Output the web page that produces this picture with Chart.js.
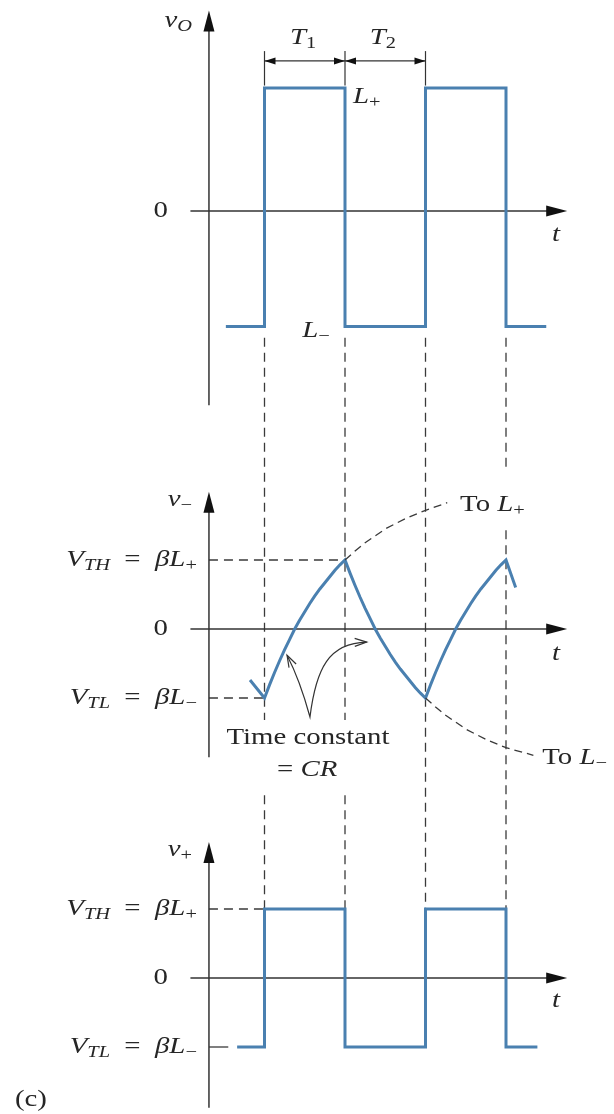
<!DOCTYPE html>
<html>
<head>
<meta charset="utf-8">
<script src="https://cdn.jsdelivr.net/npm/chart.js@4.4.1/dist/chart.umd.min.js"></script>
<style>
  html, body { margin: 0; padding: 0; background: #fff; }
  #wrap { position: relative; width: 614px; height: 1114px; }
</style>
</head>
<body>
<div id="wrap"><canvas id="wave" width="614" height="1114"></canvas></div>
<script>
// time axis in units of T1; output switches at t = 0, 1, 2, 3
const edges = [0, 1, 2, 3];

// v_O : output square wave, L+ and L-
const voT = [-0.48, 0, 0, 1, 1, 2, 2, 3, 3, 3.5];
const voV = [-0.94, -0.94, 1, 1, -0.94, -0.94, 1, 1, -0.94, -0.94];

// v- : capacitor voltage (VTH = 1, VTL = -1)
const vmT = [-0.18, -0.09, 0,
  0.0625, 0.125, 0.1875, 0.25, 0.3125, 0.375, 0.4375, 0.5, 0.5625, 0.625, 0.6875, 0.75, 0.8125, 0.875, 0.9375, 1,
  1.0625, 1.125, 1.1875, 1.25, 1.3125, 1.375, 1.4375, 1.5, 1.5625, 1.625, 1.6875, 1.75, 1.8125, 1.875, 1.9375, 2,
  2.0625, 2.125, 2.1875, 2.25, 2.3125, 2.375, 2.4375, 2.5, 2.5625, 2.625, 2.6875, 2.75, 2.8125, 2.875, 2.9375, 3,
  3.06, 3.12];
const vmV = [-0.74, -0.87, -1,
  -0.81, -0.63, -0.46, -0.3, -0.15, 0, 0.13, 0.25, 0.37, 0.48, 0.58, 0.67, 0.76, 0.85, 0.93, 1,
  0.81, 0.63, 0.46, 0.3, 0.15, 0, -0.13, -0.25, -0.37, -0.48, -0.58, -0.67, -0.76, -0.85, -0.93, -1,
  -0.81, -0.63, -0.46, -0.3, -0.15, 0, 0.13, 0.25, 0.37, 0.48, 0.58, 0.67, 0.76, 0.85, 0.93, 1,
  0.8, 0.6];

// dashed continuations of the exponentials
const toLpT = [1, 1.125, 1.25, 1.5, 1.75, 2, 2.27];
const toLpV = [1, 1.13, 1.25, 1.45, 1.6, 1.72, 1.83];
const toLmT = [2, 2.125, 2.25, 2.5, 2.75, 3, 3.34];
const toLmV = [-1, -1.13, -1.25, -1.45, -1.6, -1.72, -1.83];

// v+ : feedback voltage, VTH / VTL
const vpT = [-0.34, 0, 0, 1, 1, 2, 2, 3, 3, 3.39];
const vpV = [-1, -1, 1, 1, -1, -1, 1, 1, -1, -1];

const W = 614, H = 1114;
const BLUE = '#4a80b0';
const INK = '#262626';
const SERIF = '"Liberation Serif", "DejaVu Serif", serif';

// each y scale spans the whole canvas; zero pixel and pixels per unit pick the panel
const band = (zeroPx, unitPx) => ({ type: 'linear', display: false, min: -(H - zeroPx) / unitPx, max: zeroPx / unitPx });
const T0_PX = 264.5, T_PX = 80.5;

const series = (t, v, yAxisID, extra) => Object.assign({
  data: t.map((x, i) => ({ x, y: v[i] })),
  yAxisID,
  borderColor: BLUE, borderWidth: 3, pointRadius: 0, tension: 0, fill: false,
  borderJoinStyle: 'miter', borderCapStyle: 'butt'
}, extra || {});

const dashed = { borderColor: '#3a3a3a', borderWidth: 1.3, borderDash: [8, 5] };

const VTH = [['V', 'i'], ['TH', 'is'], ['  =  ', ''], ['β', 'i'], ['L', 'i'], ['+', 's']];
const VTL = [['V', 'i'], ['TL', 'is'], ['  =  ', ''], ['β', 'i'], ['L', 'i'], ['−', 's']];

const labels = [
  { y: 'yTop', t: -0.9, v: 1.55, align: 'right', parts: [['v', 'i'], ['O', 'is']] },
  { y: 'yTop', t: -1.2, v: 0, align: 'right', parts: [['0', '']] },
  { y: 'yTop', t: 3.62, v: -0.19, align: 'center', parts: [['t', 'i']] },
  { y: 'yTop', t: 1.1, v: 0.93, align: 'left', parts: [['L', 'i'], ['+', 's']] },
  { y: 'yTop', t: 0.47, v: -0.97, align: 'left', parts: [['L', 'i'], ['−', 's']] },
  { y: 'yTop', t: 0.48, v: 1.41, align: 'center', parts: [['T', 'i'], ['1', 's']] },
  { y: 'yTop', t: 1.47, v: 1.41, align: 'center', parts: [['T', 'i'], ['2', 's']] },
  { y: 'yMid', t: -0.9, v: 1.87, align: 'right', parts: [['v', 'i'], ['−', 's']] },
  { y: 'yMid', t: -0.84, v: 1, align: 'right', parts: VTH },
  { y: 'yMid', t: -1.2, v: 0, align: 'right', parts: [['0', '']] },
  { y: 'yMid', t: -0.84, v: -1, align: 'right', parts: VTL },
  { y: 'yMid', t: 3.62, v: -0.36, align: 'center', parts: [['t', 'i']] },
  { y: 'yMid', t: 0.54, v: -1.57, align: 'center', parts: [['Time constant', '']] },
  { y: 'yMid', t: 0.53, v: -2.04, align: 'center', parts: [['= ', ''], ['CR', 'i']] },
  { y: 'yMid', t: 2.43, v: 1.8, align: 'left', parts: [['To ', ''], ['L', 'i'], ['+', 's']] },
  { y: 'yMid', t: 3.45, v: -1.86, align: 'left', parts: [['To ', ''], ['L', 'i'], ['−', 's']] },
  { y: 'yBot', t: -0.9, v: 1.86, align: 'right', parts: [['v', 'i'], ['+', 's']] },
  { y: 'yBot', t: -0.84, v: 1, align: 'right', parts: VTH },
  { y: 'yBot', t: -1.2, v: 0, align: 'right', parts: [['0', '']] },
  { y: 'yBot', t: -0.84, v: -1, align: 'right', parts: VTL },
  { y: 'yBot', t: 3.62, v: -0.33, align: 'center', parts: [['t', 'i']] },
  { y: 'yBot', t: -3.1, v: -1.77, align: 'left', parts: [['(c)', '']] }
];

const fontFor = (st) => `${st.includes('i') ? 'italic ' : ''}${st.includes('s') ? 17 : 24}px ${SERIF}`;

function rich(ctx, parts, x, y, align) {
  const sx = 1.2;
  let w = 0;
  parts.forEach(([s, st]) => { ctx.font = fontFor(st); w += ctx.measureText(s).width; });
  w *= sx;
  let cx = align === 'right' ? x - w : align === 'center' ? x - w / 2 : x;
  ctx.save();
  ctx.translate(cx, y);
  ctx.scale(sx, 1);
  ctx.fillStyle = INK;
  ctx.textAlign = 'left';
  ctx.textBaseline = 'middle';
  let lx = 0;
  parts.forEach(([s, st]) => {
    ctx.font = fontFor(st);
    ctx.fillText(s, lx, st.includes('s') ? 6 : 0);
    lx += ctx.measureText(s).width;
  });
  ctx.restore();
}

function seg(ctx, x1, y1, x2, y2) {
  ctx.beginPath(); ctx.moveTo(x1, y1); ctx.lineTo(x2, y2); ctx.stroke();
}

function head(ctx, tx, ty, ang, len, half, filled) {
  const bx = tx - Math.cos(ang) * len, by = ty - Math.sin(ang) * len;
  const nx = -Math.sin(ang) * half, ny = Math.cos(ang) * half;
  ctx.beginPath();
  ctx.moveTo(bx + nx, by + ny); ctx.lineTo(tx, ty); ctx.lineTo(bx - nx, by - ny);
  if (filled) { ctx.closePath(); ctx.fill(); } else ctx.stroke();
}

const panels = [
  { id: 'yTop', top: 1.63, bottom: -1.58 },
  { id: 'yMid', top: 1.99, bottom: -1.86 },
  { id: 'yBot', top: 1.97, bottom: -1.88 }
];

// vertical dashed guides at the switching instants, broken where text sits
const guides = [
  [0, ['yTop', -1.03], ['yMid', -1.32]], [0, ['yBot', 2.65], ['yBot', 1]],
  [1, ['yTop', -1.03], ['yMid', -1.32]], [1, ['yBot', 2.65], ['yBot', 1]],
  [2, ['yTop', -1.03], ['yBot', 1]],
  [3, ['yTop', -1.03], ['yMid', 2.28]], [3, ['yMid', 1.43], ['yBot', 1]]
];

const sketch = {
  id: 'sketch',
  beforeDatasetsDraw(chart) {
    const { ctx } = chart;
    const px = (t) => chart.scales.x.getPixelForValue(t);
    const py = (id, v) => chart.scales[id].getPixelForValue(v);
    const axT = -0.69;
    ctx.save();

    // dashed guides
    ctx.strokeStyle = '#3a3a3a';
    ctx.lineWidth = 1.3;
    ctx.setLineDash([9, 6]);
    guides.forEach(([t, a, b]) => seg(ctx, px(t), py(a[0], a[1]), px(t), py(b[0], b[1])));
    [['yMid', 1, 1], ['yMid', -1, 0], ['yBot', 1, 0]].forEach(([id, v, t]) =>
      seg(ctx, px(axT), py(id, v), px(t), py(id, v)));
    ctx.setLineDash([]);
    seg(ctx, px(axT), py('yBot', -1), px(-0.45), py('yBot', -1));

    // axes with arrows
    ctx.strokeStyle = '#333';
    ctx.fillStyle = '#111';
    ctx.lineWidth = 1.5;
    panels.forEach((p) => {
      const ax = px(axT), y0 = py(p.id, 0);
      const yt = py(p.id, p.top), xt = px(3.76);
      seg(ctx, ax, yt + 10, ax, py(p.id, p.bottom));
      seg(ctx, px(-0.92), y0, xt - 10, y0);
      head(ctx, ax, yt, -Math.PI / 2, 21, 5.5, true);
      head(ctx, xt, y0, 0, 21, 5.5, true);
    });

    // T1 / T2 dimension marks
    const yd = py('yTop', 1.22);
    ctx.lineWidth = 1.2;
    edges.slice(0, 3).forEach((t) => seg(ctx, px(t), py('yTop', 1.3), px(t), py('yTop', 1.02)));
    seg(ctx, px(0), yd, px(2), yd);
    [[0, 1], [1, 2]].forEach(([a, b]) => {
      head(ctx, px(a), yd, Math.PI, 11, 3.5, true);
      head(ctx, px(b), yd, 0, 11, 3.5, true);
    });

    // time-constant pointer
    const P = (t, v) => [px(t), py('yMid', v)];
    const bot = P(0.565, -1.275), lt = P(0.28, -0.38), lc = P(0.44, -0.74);
    const c1 = P(0.64, -0.57), c2 = P(0.8, -0.2), rt = P(1.27, -0.19);
    ctx.strokeStyle = '#333';
    ctx.lineWidth = 1.2;
    ctx.beginPath();
    ctx.moveTo(lt[0], lt[1]);
    ctx.quadraticCurveTo(lc[0], lc[1], bot[0], bot[1]);
    ctx.bezierCurveTo(c1[0], c1[1], c2[0], c2[1], rt[0], rt[1]);
    ctx.stroke();
    head(ctx, lt[0], lt[1], Math.atan2(lt[1] - lc[1], lt[0] - lc[0]), 12, 4, false);
    head(ctx, rt[0], rt[1], Math.atan2(rt[1] - c2[1], rt[0] - c2[0]), 12, 4, false);
    ctx.restore();
  },
  afterDatasetsDraw(chart) {
    const { ctx } = chart;
    labels.forEach((l) => rich(ctx, l.parts, chart.scales.x.getPixelForValue(l.t),
      chart.scales[l.y].getPixelForValue(l.v), l.align));
  }
};

new Chart(document.getElementById('wave'), {
  type: 'line',
  data: {
    datasets: [
      series(toLpT, toLpV, 'yMid', dashed),
      series(toLmT, toLmV, 'yMid', dashed),
      series(voT, voV, 'yTop'),
      series(vmT, vmV, 'yMid'),
      series(vpT, vpV, 'yBot')
    ]
  },
  options: {
    responsive: false,
    animation: false,
    devicePixelRatio: 1,
    layout: { padding: 0 },
    plugins: { legend: { display: false }, tooltip: { enabled: false } },
    scales: {
      x: { type: 'linear', display: false, min: -T0_PX / T_PX, max: (W - T0_PX) / T_PX },
      yTop: band(211, 123),
      yMid: band(629, 69),
      yBot: band(978, 69)
    }
  },
  plugins: [sketch]
});
</script>
</body>
</html>
